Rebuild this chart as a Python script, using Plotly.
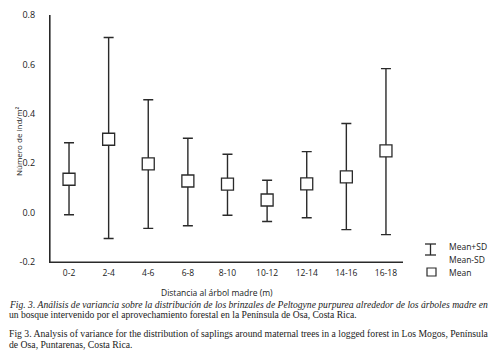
import plotly.graph_objects as go

categories = ["0-2", "2-4", "4-6", "6-8", "8-10", "10-12", "12-14", "14-16", "16-18"]
mean_vals = [0.135, 0.297, 0.197, 0.128, 0.115, 0.051, 0.116, 0.145, 0.250]
mean_plus_sd = [0.283, 0.709, 0.457, 0.301, 0.236, 0.131, 0.247, 0.361, 0.583]
mean_minus_sd = [-0.009, -0.105, -0.064, -0.053, -0.011, -0.036, -0.021, -0.069, -0.089]
y_ticks = [-0.2, 0.0, 0.2, 0.4, 0.6, 0.8]
y_tick_labels = ["-0.2", "0.0", "0.2", "0.4", "0.6", "0.8"]

# the page places the figure 8px in from the top-left corner (default body margin)
OFF = 8
W, H = 500 - OFF, 364 - OFF
L, R, T, B = 50 - OFF, 97, 15 - OFF, 102
PW, PH = W - L - R, H - T - B


def px(x):
    return (x - OFF - L) / PW


def py(y):
    return (H - B - (y - OFF)) / PH


line_col = "#2a2a2a"
idx = list(range(len(categories)))

fig = go.Figure()
fig.add_trace(go.Scatter(
    x=idx, y=mean_vals, mode="markers",
    marker=dict(symbol="square", size=12, color="white",
                line=dict(color=line_col, width=1.3)),
    error_y=dict(type="data", symmetric=False,
                 array=[u - m for u, m in zip(mean_plus_sd, mean_vals)],
                 arrayminus=[m - l for m, l in zip(mean_vals, mean_minus_sd)],
                 color=line_col, thickness=1.4, width=5),
    showlegend=False, cliponaxis=False,
))

sans = "Open Sans"
serif = "Liberation Serif"

fig.update_layout(
    template="none",
    width=W, height=H, margin=dict(l=L, r=R, t=T, b=B, autoexpand=False),
    paper_bgcolor="white", plot_bgcolor="white", showlegend=False,
    font=dict(family=sans, size=9, color="#1a1a1a"),
    xaxis=dict(range=[-0.48, 8.43], tickmode="array", tickvals=idx, ticktext=categories,
               showline=True, linecolor=line_col, linewidth=1.2, showgrid=False,
               zeroline=False, ticks="outside", ticklen=3, tickcolor="rgba(0,0,0,0)",
               automargin=False, ticklabeloverflow="allow",
               tickfont=dict(family=sans, size=8.5, color="#1a1a1a")),
    yaxis=dict(range=[-0.2, 0.8], tickmode="array", tickvals=y_ticks, ticktext=y_tick_labels,
               showline=True, linecolor=line_col, linewidth=1.2, showgrid=False,
               zeroline=False, ticks="outside", ticklen=12, tickcolor="rgba(0,0,0,0)",
               automargin=False, ticklabeloverflow="allow",
               tickfont=dict(family=sans, size=9, color="#1a1a1a")),
)

ann = []
ann.append(dict(x=px(217), y=py(292), xref="paper", yref="paper", text="Distancia al árbol madre (m)",
                showarrow=False, xanchor="center", yanchor="middle",
                font=dict(family=sans, size=8.5, color="#1a1a1a")))
ann.append(dict(x=px(18), y=py(141), xref="paper", yref="paper", text="Número de ind/m²",
                showarrow=False, xanchor="center", yanchor="middle", textangle=-90,
                font=dict(family=sans, size=8, color="#1a1a1a")))

captions = [
    (304, 9.6, "<i>Fig. 3. Análisis de variancia sobre la distribución de los brinzales de Peltogyne purpurea alrededor de los árboles madre en</i>"),
    (314, 9.6, "un bosque intervenido por el aprovechamiento forestal en la Península de Osa, Costa Rica."),
    (333.5, 9.7, "Fig 3. Analysis of variance for the distribution of saplings around maternal trees in a logged forest in Los Mogos, Península"),
    (344, 9.7, "de Osa, Puntarenas, Costa Rica."),
]
for yy, fs, t in captions:
    ann.append(dict(x=px(6.5), y=py(yy), xref="paper", yref="paper", text=t,
                    showarrow=False, xanchor="left", yanchor="middle",
                    font=dict(family=serif, size=fs, color="#1a1a1a")))

legend_items = [(246, "Mean+SD"), (259, "Mean-SD"), (272, "Mean")]
for yy, t in legend_items:
    ann.append(dict(x=px(447), y=py(yy), xref="paper", yref="paper", text=t,
                    showarrow=False, xanchor="left", yanchor="middle",
                    font=dict(family=sans, size=8.5, color="#1a1a1a")))
fig.update_layout(annotations=ann)

shapes = [
    # axis lines
    dict(type="line", xref="paper", yref="paper", x0=0, x1=0, y0=0, y1=1,
         line=dict(color=line_col, width=1.2)),
    dict(type="line", xref="paper", yref="paper", x0=0, x1=1, y0=0, y1=0,
         line=dict(color=line_col, width=1.2)),
    # legend symbols
    dict(type="line", xref="paper", yref="paper", x0=px(430.5), x1=px(430.5), y0=py(244), y1=py(255),
         line=dict(color=line_col, width=1.3)),
    dict(type="line", xref="paper", yref="paper", x0=px(425), x1=px(436), y0=py(244), y1=py(244),
         line=dict(color=line_col, width=1.3)),
    dict(type="line", xref="paper", yref="paper", x0=px(425), x1=px(436), y0=py(255), y1=py(255),
         line=dict(color=line_col, width=1.3)),
    dict(type="rect", xref="paper", yref="paper", x0=px(427), x1=px(436), y0=py(268), y1=py(276),
         line=dict(color=line_col, width=1.2), fillcolor="white"),
]
fig.update_layout(shapes=shapes)

fig.write_html("out.html")
